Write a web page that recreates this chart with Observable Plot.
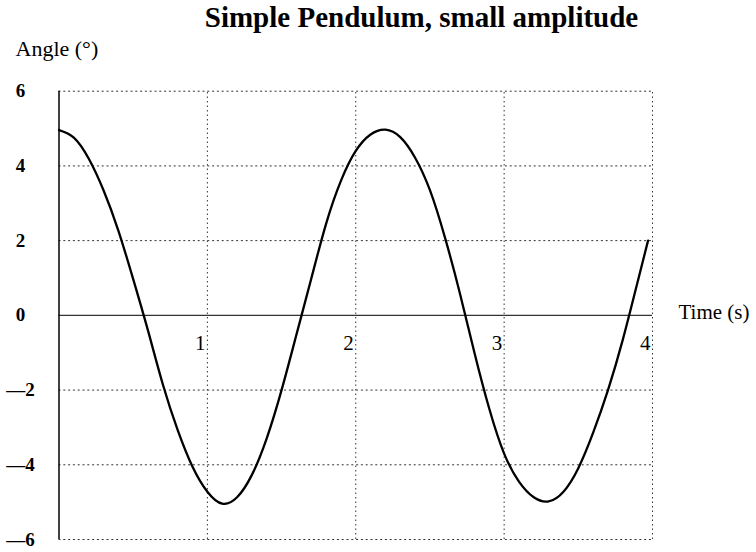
<!DOCTYPE html>
<html>
<head>
<meta charset="utf-8">
<script src="https://cdn.jsdelivr.net/npm/d3@7"></script>
<script src="https://cdn.jsdelivr.net/npm/@observablehq/plot@0.6"></script>
<style>
  html, body { margin: 0; padding: 0; background: #fff; }
  #chart svg { display: block; }
</style>
</head>
<body>
<div id="chart"></div>
<script>
// Pendulum angle (degrees) sampled every 0.1 s
const times  = [0, 0.1, 0.2, 0.3, 0.4, 0.5, 0.6, 0.7, 0.8, 0.9, 1.0, 1.1, 1.2, 1.3, 1.4, 1.5, 1.6, 1.7, 1.8, 1.9,
                2.0, 2.1, 2.2, 2.3, 2.4, 2.5, 2.6, 2.7, 2.8, 2.9, 3.0, 3.1, 3.2, 3.3, 3.4, 3.5, 3.6, 3.7, 3.8, 3.9, 3.97];
const angles = [4.96, 4.76, 4.2, 3.35, 2.27, 0.97, -0.41, -1.85, -3.07, -4.05, -4.72, -5.04, -4.87, -4.27, -3.29, -2.0, -0.52, 0.98, 2.45, 3.6,
                4.4, 4.84, 4.97, 4.77, 4.22, 3.35, 2.1, 0.62, -1.0, -2.5, -3.7, -4.45, -4.87, -4.98, -4.72, -4.09, -3.14, -2.0, -0.65, 0.9, 2.0];

const xTicks = [1, 2, 3, 4];
const yTicks = [6, 4, 2, 0, -2, -4, -6];
const yGrid  = [6, 4, 2, -2, -4, -6];

const title  = "Simple Pendulum, small amplitude";
const yLabel = "Angle (°)";
const xLabel = "Time (s)";

const data = times.map((t, i) => ({t, angle: angles[i]}));
const serif = "'Liberation Serif', 'Times New Roman', serif";
const fmt = d => d < 0 ? "—" + (-d) : String(d);

const chart = Plot.plot({
  width: 756,
  height: 552,
  marginLeft: 58.5,
  marginRight: 104,
  marginTop: 90.7,
  marginBottom: 13,
  x: {domain: [0, 4], axis: null},
  y: {domain: [-6, 6], axis: null},
  style: {fontFamily: serif, background: "#fff"},
  marks: [
    // dotted grid
    Plot.ruleY(yGrid, {x1: 0, x2: 4, stroke: "#333", strokeWidth: 1, strokeDasharray: "2,2.8"}),
    Plot.ruleX(xTicks, {y1: -6, y2: 6, stroke: "#333", strokeWidth: 1, strokeDasharray: "1.5,3"}),
    // zero line and vertical axis
    Plot.ruleY([0], {x1: 0, x2: 4, stroke: "#333", strokeWidth: 1.2}),
    Plot.ruleX([0], {y1: -6, y2: 6, stroke: "#000", strokeWidth: 1.5}),
    // the swing
    Plot.line(data, {x: "t", y: "angle", curve: "natural", stroke: "#000", strokeWidth: 2.3}),
    // tick labels
    Plot.text(yTicks, {x: 0, y: d => d, text: fmt, dx: -38.5, textAnchor: "middle", lineAnchor: "middle",
      fontFamily: serif, fontWeight: "bold", fontSize: 19, fill: "#000"}),
    Plot.text(xTicks, {x: d => d, y: 0, text: d => String(d), dx: -2, dy: 28, textAnchor: "end", lineAnchor: "middle",
      fontFamily: serif, fontSize: 21, fill: "#000"}),
    // axis labels and title
    Plot.text([xLabel], {x: 4, y: 0, dx: 26, dy: -3, textAnchor: "start", lineAnchor: "middle",
      fontFamily: serif, fontSize: 21, fill: "#000"}),
    Plot.text([yLabel], {frameAnchor: "top-left", dx: -43.5, dy: -42.5, textAnchor: "start", lineAnchor: "middle",
      fontFamily: serif, fontSize: 22, fill: "#000"}),
    Plot.text([title], {frameAnchor: "top-left", dx: 362.5, dy: -73.2, textAnchor: "middle", lineAnchor: "middle",
      fontFamily: serif, fontWeight: "bold", fontSize: 29, fill: "#000"})
  ]
});
document.getElementById("chart").appendChild(chart);
</script>
</body>
</html>
